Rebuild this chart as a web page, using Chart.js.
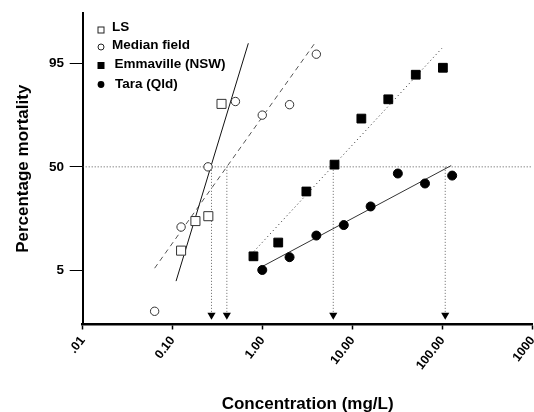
<!DOCTYPE html>
<html>
<head>
<meta charset="utf-8">
<script src="https://cdn.jsdelivr.net/npm/chart.js@4.4.1/dist/chart.umd.min.js"></script>
<style>
html, body { margin: 0; padding: 0; overflow: hidden; background: #fff; }
canvas { display: block; }
</style>
</head>
<body>
<canvas id="myChart" width="540" height="412"></canvas>
<script>
// concentration (mg/L) and % mortality
const lsConc = [0.124, 0.179, 0.249, 0.349];
const lsMort = [9.2, 19.5, 21.7, 84.1];
const medianConc = [0.063, 0.124, 0.247, 0.498, 0.99, 1.99, 3.95];
const medianMort = [1.1, 17.0, 50.0, 85.0, 79.4, 83.8, 96.3];
const emmaConc = [0.79, 1.49, 3.06, 6.29, 12.5, 24.9, 50.3, 100.7];
const emmaMort = [7.8, 11.5, 34.8, 51.4, 77.8, 85.8, 92.8, 94.2];
const taraConc = [0.99, 1.99, 3.95, 7.97, 15.85, 31.8, 63.7, 127.7];
const taraMort = [5.1, 7.6, 13.8, 17.8, 26.5, 45.8, 39.6, 44.5];

// fitted probit lines (end points)
const lsFitConc = [0.109, 0.693];
const lsFitMort = [3.5, 97.5];
const medianFitConc = [0.063, 3.95];
const medianFitMort = [5.4, 97.7];
const emmaFitConc = [0.80, 98.2];
const emmaFitMort = [9.0, 97.0];
const taraFitConc = [0.99, 124.5];
const taraFitMort = [5.7, 50.8];

// LC50 read-offs
const lc50 = [0.27, 0.40, 6.09, 106.9];
const arrowMort = 0.94;
const halfLine = [0.01, 1000];

const xTicks = [0.01, 0.1, 1, 10, 100, 1000];
const xTickLabels = ['.01', '0.10', '1.00', '10.00', '100.00', '1000'];
const yTicks = [5, 50, 95];
const legendLabels = ['LS', 'Median field', 'Emmaville (NSW)', 'Tara (Qld)'];

// percent -> probit (inverse normal), Acklam
function probit(pc) {
    const p = pc / 100;
    const a = [-3.969683028665376e+01, 2.209460984245205e+02, -2.759285104469687e+02, 1.383577518672690e+02, -3.066479806614716e+01, 2.506628277459239e+00];
    const b = [-5.447609879822406e+01, 1.615858368580409e+02, -1.556989798598866e+02, 6.680131188771972e+01, -1.328068155288572e+01];
    const c = [-7.784894002430293e-03, -3.223964580411365e-01, -2.400758277161838e+00, -2.549732539343734e+00, 4.374664141464968e+00, 2.938163982698783e+00];
    const d = [7.784695709041462e-03, 3.224671290700398e-01, 2.445134137142996e+00, 3.754408661907416e+00];
    let q, r;
    if (p < 0.02425) {
        q = Math.sqrt(-2 * Math.log(p));
        return (((((c[0]*q+c[1])*q+c[2])*q+c[3])*q+c[4])*q+c[5]) / ((((d[0]*q+d[1])*q+d[2])*q+d[3])*q+1);
    }
    if (p > 1 - 0.02425) {
        q = Math.sqrt(-2 * Math.log(1 - p));
        return -(((((c[0]*q+c[1])*q+c[2])*q+c[3])*q+c[4])*q+c[5]) / ((((d[0]*q+d[1])*q+d[2])*q+d[3])*q+1);
    }
    q = p - 0.5; r = q * q;
    return (((((a[0]*r+a[1])*r+a[2])*r+a[3])*r+a[4])*r+a[5])*q / (((((b[0]*r+b[1])*r+b[2])*r+b[3])*r+b[4])*r+1);
}

function pts(conc, mort) {
    return conc.map((c, i) => ({x: c, y: probit(mort[i])}));
}

Chart.defaults.font.family = "'Liberation Sans', Arial, sans-serif";
Chart.defaults.color = '#000';

const yTickFont = {size: 13.5, weight: 'bold'};
const xTickFont = {size: 12.5, weight: 'bold'};
const titleFont = {size: 17, weight: 'bold'};

const datasets = [
    {label: 'LS', data: pts(lsConc, lsMort), pointStyle: 'rect', pointRadius: 6.4,
     backgroundColor: '#fff', borderColor: '#333', borderWidth: 1, order: 0},
    {label: 'Median field', data: pts(medianConc, medianMort), pointStyle: 'circle', pointRadius: 4.2,
     backgroundColor: '#fff', borderColor: '#333', borderWidth: 1, order: 0},
    {label: 'Emmaville (NSW)', data: pts(emmaConc, emmaMort), pointStyle: 'rect', pointRadius: 6.2,
     backgroundColor: '#000', borderColor: '#000', borderWidth: 1, order: 0},
    {label: 'Tara (Qld)', data: pts(taraConc, taraMort), pointStyle: 'circle', pointRadius: 4.5,
     backgroundColor: '#000', borderColor: '#000', borderWidth: 1, order: 0},

    {data: pts(lsFitConc, lsFitMort), showLine: true, pointRadius: 0, borderColor: '#111', borderWidth: 1, order: 1},
    {data: pts(medianFitConc, medianFitMort), showLine: true, pointRadius: 0, borderColor: '#555', borderWidth: 1, borderDash: [5, 4], order: 1},
    {data: pts(emmaFitConc, emmaFitMort), showLine: true, pointRadius: 0, borderColor: '#222', borderWidth: 1, borderDash: [1, 3], order: 1},
    {data: pts(taraFitConc, taraFitMort), showLine: true, pointRadius: 0, borderColor: '#333', borderWidth: 1, order: 1},

    {data: pts(halfLine, [50, 50]), showLine: true, pointRadius: 0, borderColor: '#555', borderWidth: 1, borderDash: [1, 2], order: 2}
];

lc50.forEach(v => {
    datasets.push({
        data: pts([v, v], [50, arrowMort]), showLine: true,
        borderColor: '#666', borderWidth: 1, borderDash: [1, 2],
        pointRadius: [0, 4.7], pointStyle: 'triangle', pointRotation: 180,
        pointBackgroundColor: '#000', pointBorderColor: '#000', pointBorderWidth: 0, order: 2
    });
});

const legendPlugin = {
    id: 'insideLegend',
    afterDraw(chart) {
        const ctx = chart.ctx;
        const rows = [
            {sy: 30, ty: 27, tx: 112},
            {sy: 47, ty: 45.5, tx: 112},
            {sy: 65.5, ty: 64.5, tx: 114.5},
            {sy: 84.5, ty: 84, tx: 115}
        ];
        ctx.save();
        ctx.font = "bold 13.5px 'Liberation Sans', Arial, sans-serif";
        ctx.textBaseline = 'middle';
        rows.forEach((r, i) => {
            const sx = 101;
            ctx.lineWidth = 1;
            ctx.strokeStyle = '#222';
            ctx.fillStyle = '#000';
            if (i === 0) ctx.strokeRect(sx - 3, r.sy - 3, 6, 6);
            if (i === 1) { ctx.beginPath(); ctx.arc(sx, r.sy, 3, 0, Math.PI * 2); ctx.stroke(); }
            if (i === 2) ctx.fillRect(sx - 3.5, r.sy - 3.5, 7, 7);
            if (i === 3) { ctx.beginPath(); ctx.arc(sx, r.sy, 3.4, 0, Math.PI * 2); ctx.fill(); }
            ctx.fillText(legendLabels[i], r.tx, r.ty);
        });
        ctx.restore();
    }
};

const config = {
    type: 'scatter',
    data: {datasets: datasets},
    options: {
        responsive: false,
        animation: false,
        layout: {padding: {top: 13, right: 4.4, left: 0, bottom: 0}},
        plugins: {legend: {display: false}, tooltip: {enabled: false}},
        scales: {
            x: {
                type: 'logarithmic', min: 0.01, max: 1000,
                afterBuildTicks: s => { s.ticks = xTicks.map(v => ({value: v})); },
                afterFit: s => { s.height = 87.5; s.paddingLeft = 0; s.paddingRight = 0; },
                ticks: {callback: (v, i) => xTickLabels[i], minRotation: 52, maxRotation: 52, autoSkip: false, padding: 4, font: xTickFont, color: '#000'},
                grid: {drawOnChartArea: false, tickLength: 5, tickColor: '#000', tickWidth: 1.5},
                border: {color: '#000', width: 2.5},
                title: {display: true, text: 'Concentration (mg/L)', font: titleFont, color: '#000', padding: {top: 0, bottom: -2.5}}
            },
            y: {
                type: 'linear', min: -2.50, max: 2.44,
                afterBuildTicks: s => { s.ticks = yTicks.map(v => ({value: probit(v)})); },
                afterFit: s => { s.width = 82.7; s.paddingTop = 0; s.paddingBottom = 0; },
                ticks: {callback: (v, i) => yTicks[i], padding: 5.7, font: yTickFont, color: '#000'},
                grid: {drawOnChartArea: false, tickLength: 13, tickColor: '#000', tickWidth: 1},
                border: {color: '#000', width: 2},
                title: {display: true, text: 'Percentage mortality', font: titleFont, color: '#000', padding: {top: 13, bottom: 0}}
            }
        }
    },
    plugins: [legendPlugin]
};

const chart = new Chart(document.getElementById('myChart'), config);
</script>
</body>
</html>
